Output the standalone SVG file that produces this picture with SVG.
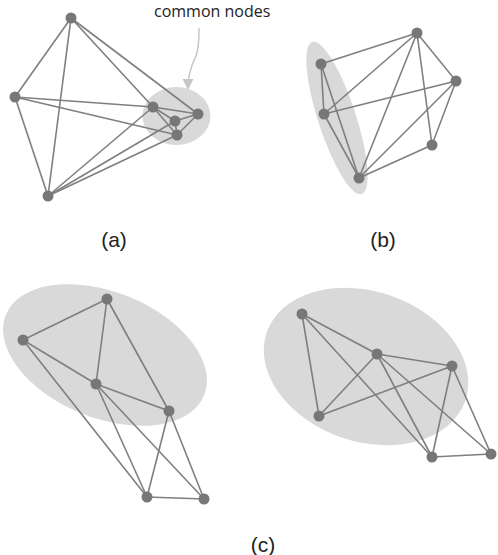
<svg xmlns="http://www.w3.org/2000/svg" width="498" height="555" viewBox="0 0 498 555">
<style>
.hull{fill:#d9d9d9;stroke:none}
.e{stroke:#7f7f7f;stroke-width:1.6;fill:none}
.n{fill:#777777}
.lbl{font-family:"Liberation Sans",Arial,sans-serif;font-size:21px;fill:#222;text-anchor:middle}
.note{font-family:"Open Sans","Noto Sans",sans-serif;font-size:16px;fill:#222}
</style>
<rect width="498" height="555" fill="#ffffff"/>
<g id="hulls">
<ellipse class="hull" cx="176.5" cy="116" rx="34" ry="29"/>
<ellipse class="hull" cx="337" cy="118" rx="19" ry="80" transform="rotate(-18 337 118)"/>
<ellipse class="hull" cx="105" cy="355" rx="107" ry="63" transform="rotate(22 105 355)"/>
<ellipse class="hull" cx="366" cy="366.5" rx="105" ry="75" transform="rotate(19 366 366.5)"/>
</g>
<g id="connectors">
<line class="e" x1="71" y1="18" x2="15" y2="97"/>
<line class="e" x1="71" y1="18" x2="48" y2="196"/>
<line class="e" x1="71" y1="18" x2="153" y2="107"/>
<line class="e" x1="71" y1="18" x2="198" y2="114"/>
<line class="e" x1="15" y1="97" x2="48" y2="196"/>
<line class="e" x1="15" y1="97" x2="153" y2="107"/>
<line class="e" x1="15" y1="97" x2="177" y2="135"/>
<line class="e" x1="48" y1="196" x2="153" y2="107"/>
<line class="e" x1="48" y1="196" x2="175" y2="121"/>
<line class="e" x1="48" y1="196" x2="177" y2="135"/>
<line class="e" x1="153" y1="107" x2="175" y2="121"/>
<line class="e" x1="153" y1="107" x2="177" y2="135"/>
<line class="e" x1="153" y1="107" x2="198" y2="114"/>
<line class="e" x1="175" y1="121" x2="198" y2="114"/>
<line class="e" x1="175" y1="121" x2="177" y2="135"/>
<line class="e" x1="177" y1="135" x2="198" y2="114"/>
<line class="e" x1="321" y1="64" x2="417" y2="33"/>
<line class="e" x1="321" y1="64" x2="324" y2="114"/>
<line class="e" x1="321" y1="64" x2="359" y2="178"/>
<line class="e" x1="324" y1="114" x2="417" y2="33"/>
<line class="e" x1="324" y1="114" x2="456" y2="81"/>
<line class="e" x1="324" y1="114" x2="359" y2="178"/>
<line class="e" x1="359" y1="178" x2="417" y2="33"/>
<line class="e" x1="359" y1="178" x2="456" y2="81"/>
<line class="e" x1="359" y1="178" x2="432" y2="145"/>
<line class="e" x1="417" y1="33" x2="456" y2="81"/>
<line class="e" x1="417" y1="33" x2="432" y2="145"/>
<line class="e" x1="456" y1="81" x2="432" y2="145"/>
<line class="e" x1="107" y1="299" x2="23" y2="340"/>
<line class="e" x1="107" y1="299" x2="96" y2="384"/>
<line class="e" x1="107" y1="299" x2="169" y2="411"/>
<line class="e" x1="23" y1="340" x2="96" y2="384"/>
<line class="e" x1="23" y1="340" x2="147" y2="497"/>
<line class="e" x1="96" y1="384" x2="169" y2="411"/>
<line class="e" x1="96" y1="384" x2="147" y2="497"/>
<line class="e" x1="96" y1="384" x2="204" y2="499"/>
<line class="e" x1="169" y1="411" x2="147" y2="497"/>
<line class="e" x1="169" y1="411" x2="204" y2="499"/>
<line class="e" x1="147" y1="497" x2="204" y2="499"/>
<line class="e" x1="302" y1="314" x2="377" y2="354"/>
<line class="e" x1="302" y1="314" x2="319" y2="416"/>
<line class="e" x1="302" y1="314" x2="432" y2="457"/>
<line class="e" x1="377" y1="354" x2="452" y2="366"/>
<line class="e" x1="377" y1="354" x2="319" y2="416"/>
<line class="e" x1="377" y1="354" x2="432" y2="457"/>
<line class="e" x1="377" y1="354" x2="491" y2="454"/>
<line class="e" x1="452" y1="366" x2="319" y2="416"/>
<line class="e" x1="452" y1="366" x2="432" y2="457"/>
<line class="e" x1="452" y1="366" x2="491" y2="454"/>
<line class="e" x1="432" y1="457" x2="491" y2="454"/>
<path d="M199,28 C199,42 198.5,50 196,56 C193,62 190,68 188.5,80" stroke="#c6c6c6" stroke-width="1.5" fill="none"/>
<polygon points="182.5,79 193.5,79 188,90" fill="#c6c6c6"/>
</g>
<g id="a1"><circle class="n" cx="71" cy="18" r="5.5"/></g>
<g id="a2"><circle class="n" cx="15" cy="97" r="5.5"/></g>
<g id="a3"><circle class="n" cx="48" cy="196" r="5.5"/></g>
<g id="a4"><circle class="n" cx="153" cy="107" r="5.5"/></g>
<g id="a5"><circle class="n" cx="175" cy="121" r="5.5"/></g>
<g id="a6"><circle class="n" cx="198" cy="114" r="5.5"/></g>
<g id="a7"><circle class="n" cx="177" cy="135" r="5.5"/></g>
<g id="b1"><circle class="n" cx="417" cy="33" r="5.5"/></g>
<g id="b2"><circle class="n" cx="321" cy="64" r="5.5"/></g>
<g id="b3"><circle class="n" cx="456" cy="81" r="5.5"/></g>
<g id="b4"><circle class="n" cx="324" cy="114" r="5.5"/></g>
<g id="b5"><circle class="n" cx="432" cy="145" r="5.5"/></g>
<g id="b6"><circle class="n" cx="359" cy="178" r="5.5"/></g>
<g id="c1"><circle class="n" cx="107" cy="299" r="5.5"/></g>
<g id="c2"><circle class="n" cx="23" cy="340" r="5.5"/></g>
<g id="c3"><circle class="n" cx="96" cy="384" r="5.5"/></g>
<g id="c4"><circle class="n" cx="169" cy="411" r="5.5"/></g>
<g id="c5"><circle class="n" cx="147" cy="497" r="5.5"/></g>
<g id="c6"><circle class="n" cx="204" cy="499" r="5.5"/></g>
<g id="d1"><circle class="n" cx="302" cy="314" r="5.5"/></g>
<g id="d2"><circle class="n" cx="377" cy="354" r="5.5"/></g>
<g id="d3"><circle class="n" cx="452" cy="366" r="5.5"/></g>
<g id="d4"><circle class="n" cx="319" cy="416" r="5.5"/></g>
<g id="d5"><circle class="n" cx="432" cy="457" r="5.5"/></g>
<g id="d6"><circle class="n" cx="491" cy="454" r="5.5"/></g>
<g id="labels">
<text class="note" x="154" y="17">common nodes</text>
<text class="lbl" x="114" y="247">(a)</text>
<text class="lbl" x="383" y="247">(b)</text>
<text class="lbl" x="263" y="552">(c)</text>
</g>
</svg>
